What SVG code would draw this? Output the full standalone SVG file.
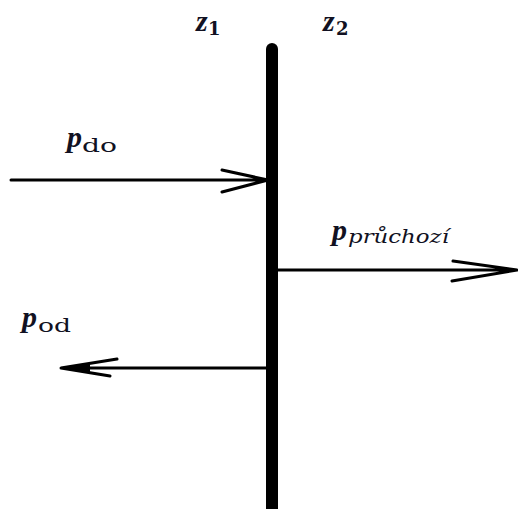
<svg xmlns="http://www.w3.org/2000/svg" width="518" height="509" viewBox="0 0 518 509">
<style>
.ln{stroke:#000;stroke-width:3;fill:none;stroke-linecap:round}
.v{font-family:"Liberation Serif","DejaVu Serif",serif;font-style:italic;font-weight:bold;fill:#111122}
.s{font-family:"DejaVu Serif","Liberation Serif",serif;fill:#111122}
</style>
<rect width="518" height="509" fill="#fff"/>
<g id="wall">
<path d="M266,509 V49 a6,6 0 0 1 12,0 V509 Z" fill="#000"/>
</g>
<g id="label-z1"><text class="v" x="196" y="31" font-size="30">z</text><text class="s" x="208" y="35" font-size="18" font-weight="bold">1</text></g>
<g id="label-z2"><text class="v" x="323" y="31" font-size="30">z</text><text class="s" x="336" y="35" font-size="18" font-weight="bold">2</text></g>
<g id="label-pdo"><text class="v" x="67" y="147" font-size="30">p</text><text class="s" x="82" y="152" font-size="18" textLength="35" lengthAdjust="spacingAndGlyphs">do</text></g>
<g id="label-pprucho"><text class="v" x="332" y="240" font-size="30">p</text><text class="s" x="348" y="243" font-size="18" font-style="italic" textLength="101" lengthAdjust="spacingAndGlyphs">průchozí</text></g>
<g id="label-pod"><text class="v" x="22" y="327" font-size="30">p</text><text class="s" x="38" y="332" font-size="18" textLength="33" lengthAdjust="spacingAndGlyphs">od</text></g>
<g id="connectors">
<path class="ln" d="M11,180 H268 M222,170 L268,180 L222,192"/>
<path class="ln" d="M278,270 H517 M453,261 L517,270 L452,281"/>
<path class="ln" d="M266,368 H61 M117,359 L61,368 L110,376"/>
<path d="M61,368 L90,363 L90,373 Z" fill="#000"/>
</g>
</svg>
